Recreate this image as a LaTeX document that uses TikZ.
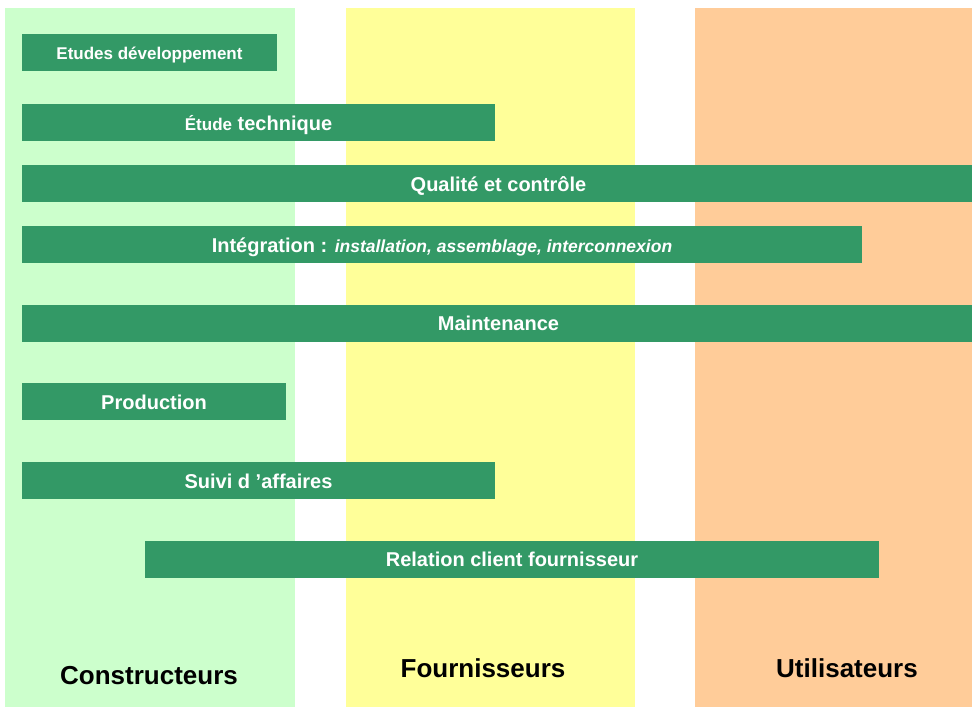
\documentclass[tikz,border=0pt]{standalone}
\usepackage{fontspec}
\setmainfont{Liberation Sans}
\definecolor{colgreen}{HTML}{CCFFCC}
\definecolor{colyellow}{HTML}{FFFF99}
\definecolor{colorange}{HTML}{FFCC99}
\definecolor{bargreen}{HTML}{339966}
\tikzset{
  column/.style={draw=none, inner sep=0pt},
  bar/.style={fill=bargreen, draw=none, text=white, inner sep=0pt, minimum height=37pt,
    text height=15pt, text depth=0pt,
    font=\fontsize{20}{24}\selectfont\bfseries},
  collabel/.style={text=black, inner sep=0pt, font=\fontsize{26}{30}\selectfont\bfseries}
}
\begin{document}
\begin{tikzpicture}[x=1pt,y=-1pt]
\useasboundingbox (0,0) rectangle (972,707);
\fill[white] (0,0) rectangle (972,707);
% columns
\node[column, fill=colgreen, minimum width=290pt, minimum height=699pt] (cg) at (150,357.5) {};
\node[column, fill=colyellow, minimum width=289pt, minimum height=699pt] (cy) at (490.5,357.5) {};
\node[column, fill=colorange, minimum width=277pt, minimum height=699pt] (co) at (833.5,357.5) {};
% bars
\node[bar, minimum width=255pt, text height=13pt, font=\fontsize{17}{20}\selectfont\bfseries] (b1) at (149.5,52.5) {Etudes développement};
\node[bar, minimum width=473pt] (b2) at (258.5,122.5) {{\fontsize{17}{20}\selectfont Étude} technique};
\node[bar, minimum width=953pt] (b3) at (498.5,183.5) {Qualité et contrôle};
\node[bar, minimum width=840pt] (b4) at (442,244.5) {Intégration : {\fontsize{17.5}{20}\selectfont\itshape installation, assemblage, interconnexion}};
\node[bar, minimum width=953pt] (b5) at (498.5,323) {Maintenance};
\node[bar, minimum width=264pt] (b6) at (154,401.5) {Production};
\node[bar, minimum width=473pt] (b7) at (258.5,480.5) {Suivi d ’affaires};
\node[bar, minimum width=734pt] (b8) at (512,559) {Relation client fournisseur};
% column labels
\node[collabel] (lc) at (149,675.5) {Constructeurs};
\node[collabel] (lf) at (483,668) {Fournisseurs};
\node[collabel] (lu) at (847,668.5) {Utilisateurs};
\end{tikzpicture}
\end{document}
